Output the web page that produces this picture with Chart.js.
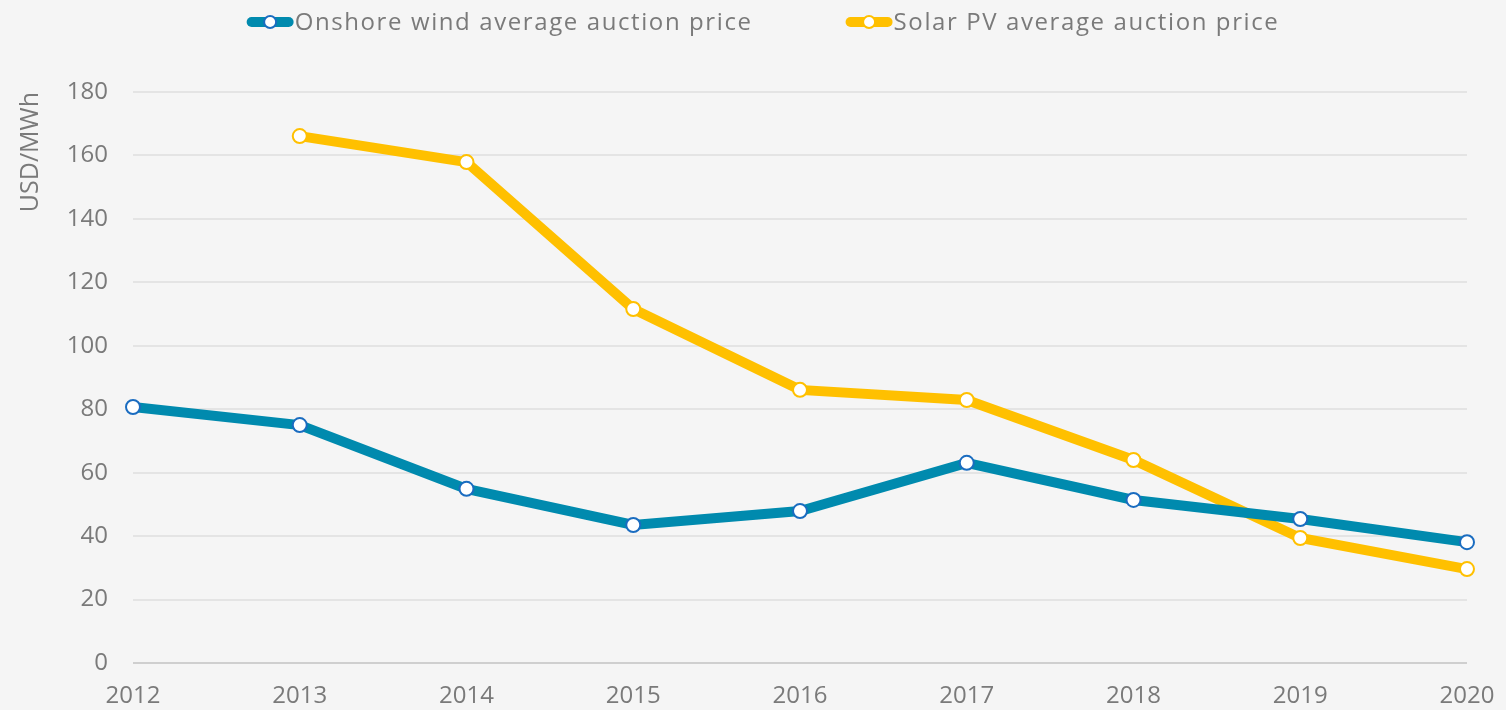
<!DOCTYPE html>
<html>
<head>
<meta charset="utf-8">
<script src="https://cdn.jsdelivr.net/npm/chart.js@4"></script>
<style>
  html, body { margin: 0; padding: 0; background: #f5f5f5; }
  #wrap { width: 1506px; height: 710px; }
</style>
</head>
<body>
<div id="wrap"><canvas id="grafico" width="1506" height="710"></canvas></div>
<script>
// Datos
const years = ["2012", "2013", "2014", "2015", "2016", "2017", "2018", "2019", "2020"];
const windPrices = [80.7, 75.0, 54.9, 43.5, 47.9, 63.1, 51.4, 45.4, 38.1];
const solarPrices = [null, 166.1, 157.9, 111.6, 86.1, 82.9, 64.0, 39.4, 29.6];
const yTicks = [0, 20, 40, 60, 80, 100, 120, 140, 160, 180];
const seriesNames = ["Onshore wind average auction price", "Solar PV average auction price"];

const FONT = "'Open Sans', sans-serif";
const TEXT = "#7a7a7a";

// Leyenda dibujada a mano (línea gruesa con círculo)
const leyendaPlugin = {
    id: "leyenda",
    afterDraw(chart) {
        const ctx = chart.ctx;
        ctx.save();
        ctx.font = "24px " + FONT;
        ctx.letterSpacing = "1.6px";
        const symW = 47, gap = 1, itemGap = 93;
        let widths = chart.data.datasets.map(ds => symW + gap + ctx.measureText(ds.label).width);
        let total = widths.reduce((a, b) => a + b, 0) + itemGap * (widths.length - 1);
        let x = (chart.width - total) / 2 + 10;
        const y = 22;
        chart.data.datasets.forEach((ds, i) => {
            ctx.strokeStyle = ds.borderColor;
            ctx.lineWidth = 10;
            ctx.lineCap = "round";
            ctx.beginPath();
            ctx.moveTo(x + 5, y);
            ctx.lineTo(x + symW - 5, y);
            ctx.stroke();
            ctx.beginPath();
            ctx.arc(x + symW / 2, y, 6, 0, Math.PI * 2);
            ctx.fillStyle = "#ffffff";
            ctx.fill();
            ctx.lineWidth = 2;
            ctx.strokeStyle = ds.pointBorderColor;
            ctx.stroke();
            ctx.fillStyle = TEXT;
            ctx.textBaseline = "middle";
            ctx.textAlign = "left";
            ctx.fillText(ds.label, x + symW + gap, y + 1);
            x += widths[i] + itemGap;
        });
        ctx.restore();
    }
};

new Chart(document.getElementById("grafico"), {
    type: "line",
    data: {
        labels: years,
        datasets: [
            {
                label: seriesNames[0],
                data: windPrices,
                borderColor: "#008aae",
                borderWidth: 10,
                pointBackgroundColor: "#ffffff",
                pointBorderColor: "#1a6cc0",
                pointBorderWidth: 2,
                pointRadius: 7,
                tension: 0
            },
            {
                label: seriesNames[1],
                data: solarPrices,
                borderColor: "#ffc000",
                borderWidth: 10,
                pointBackgroundColor: "#ffffff",
                pointBorderColor: "#ffc000",
                pointBorderWidth: 2,
                pointRadius: 7,
                tension: 0
            }
        ]
    },
    options: {
        responsive: false,
        animation: false,
        layout: { padding: { top: 92, right: 39, left: 0, bottom: 0 } },
        plugins: {
            legend: { display: false },
            tooltip: { enabled: false }
        },
        scales: {
            x: {
                offset: false,
                grid: { display: false },
                border: { display: false },
                ticks: { color: TEXT, font: { family: FONT, size: 24 }, padding: 11, maxRotation: 0 },
                afterFit: s => { s.height = 47; }
            },
            y: {
                min: 0,
                max: 180,
                afterBuildTicks: s => { s.ticks = yTicks.map(v => ({ value: v })); },
                grid: {
                    drawTicks: false,
                    lineWidth: 2,
                    color: ctx => ctx.tick && ctx.tick.value === 0 ? "#cfcfcf" : "#e4e4e4"
                },
                border: { display: false },
                ticks: { color: TEXT, font: { family: FONT, size: 24 }, padding: 25 },
                title: {
                    display: true,
                    text: "USD/MWh",
                    align: "end",
                    color: TEXT,
                    font: { family: FONT, size: 25 },
                    padding: { top: 16, bottom: 0 }
                },
                afterFit: s => { s.width = 133; }
            }
        }
    },
    plugins: [leyendaPlugin, {
        id: "fondo",
        beforeDraw(chart) {
            const ctx = chart.ctx;
            ctx.save();
            ctx.fillStyle = "#f5f5f5";
            ctx.fillRect(0, 0, chart.width, chart.height);
            ctx.restore();
        }
    }]
});
</script>
</body>
</html>
